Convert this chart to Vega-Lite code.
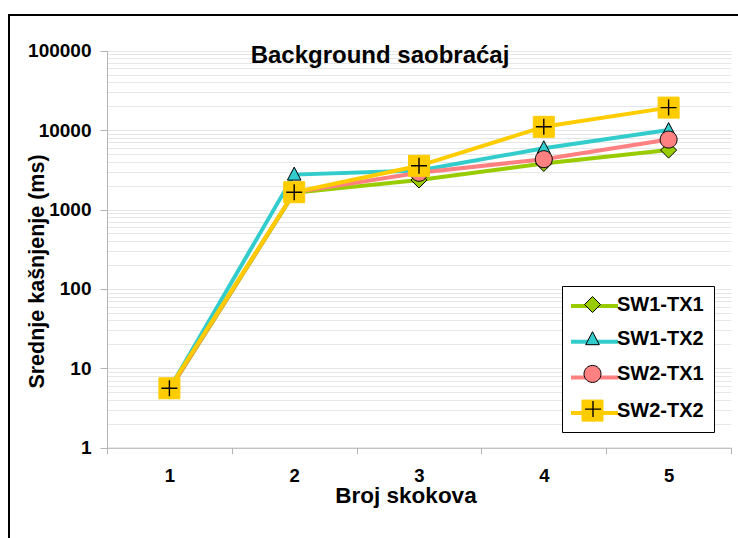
{
  "$schema": "https://vega.github.io/schema/vega-lite/v6.json",
  "width": 740,
  "height": 530,
  "autosize": {"type": "none"},
  "padding": {"left": 9, "top": 15, "right": -11, "bottom": -7},
  "config": {
    "font": "Liberation Sans",
    "view": {"stroke": "black", "strokeWidth": 2, "fill": "white"}
  },
  "title": {
    "text": "Background saobraćaj",
    "fontSize": 24,
    "fontWeight": "bold",
    "color": "black",
    "anchor": "middle",
    "offset": 0,
    "baseline": "alphabetic",
    "dy": 72,
    "dx": 1
  },
  "data": {
    "values": [
      {"hops": 1, "series": "SW1-TX1", "delay": 5.3},
      {"hops": 2, "series": "SW1-TX1", "delay": 1620},
      {"hops": 3, "series": "SW1-TX1", "delay": 2350},
      {"hops": 4, "series": "SW1-TX1", "delay": 3800},
      {"hops": 5, "series": "SW1-TX1", "delay": 5600},
      {"hops": 1, "series": "SW1-TX2", "delay": 5.5},
      {"hops": 2, "series": "SW1-TX2", "delay": 2750},
      {"hops": 3, "series": "SW1-TX2", "delay": 3100},
      {"hops": 4, "series": "SW1-TX2", "delay": 5900},
      {"hops": 5, "series": "SW1-TX2", "delay": 10000},
      {"hops": 1, "series": "SW2-TX1", "delay": 5.4},
      {"hops": 2, "series": "SW2-TX1", "delay": 1650},
      {"hops": 3, "series": "SW2-TX1", "delay": 2900},
      {"hops": 4, "series": "SW2-TX1", "delay": 4300},
      {"hops": 5, "series": "SW2-TX1", "delay": 7600},
      {"hops": 1, "series": "SW2-TX2", "delay": 5.6},
      {"hops": 2, "series": "SW2-TX2", "delay": 1650},
      {"hops": 3, "series": "SW2-TX2", "delay": 3550},
      {"hops": 4, "series": "SW2-TX2", "delay": 11000},
      {"hops": 5, "series": "SW2-TX2", "delay": 19200}
    ]
  },
  "encoding": {
    "x": {
      "field": "hops",
      "type": "ordinal",
      "scale": {"type": "band", "paddingInner": 0, "paddingOuter": 0, "range": [98, 722]},
      "axis": {
        "title": "Broj skokova",
        "orient": "bottom",
        "offset": -97.3,
        "labelAngle": 0,
        "tickBand": "extent",
        "tickSize": 6,
        "tickColor": "#b4b4b4",
        "domainColor": "#b4b4b4",
        "labelFontSize": 18.5,
        "labelFontWeight": "bold",
        "labelColor": "black",
        "labelPadding": 13,
        "grid": false,
        "titleFontSize": 22.5,
        "titleFontWeight": "bold",
        "titleColor": "black",
        "titleX": 396.5,
        "titleY": 54.5,
        "titleBaseline": "alphabetic",
        "titleAlign": "center"
      }
    },
    "y": {
      "field": "delay",
      "type": "quantitative",
      "scale": {"type": "log", "domain": [1, 100000], "range": [432.7, 35.7], "nice": false},
      "axis": {
        "title": "Srednje kašnjenje (ms)",
        "orient": "left",
        "offset": -98,
        "values": [1,2,3,4,5,6,7,8,9,10,20,30,40,50,60,70,80,90,100,200,300,400,500,600,700,800,900,1000,2000,3000,4000,5000,6000,7000,8000,9000,10000,20000,30000,40000,50000,60000,70000,80000,90000,100000],
        "format": "d",
        "labelExpr": "indexof([1,10,100,1000,10000,100000], datum.value) >= 0 ? datum.label : ''",
        "labelOverlap": false,
        "labelFontSize": 19,
        "labelFontWeight": "bold",
        "labelColor": "black",
        "labelPadding": 9,
        "tickSize": 7,
        "tickColor": "#b4b4b4",
        "tickOpacity": {"condition": {"test": "indexof([1,10,100,1000,10000,100000], datum.value) < 0", "value": 0}, "value": 1},
        "domainColor": "#b4b4b4",
        "grid": true,
        "gridColor": "#e6e6e6",
        "titleFontSize": 21.5,
        "titleFontWeight": "bold",
        "titleColor": "black",
        "titleX": -64,
        "titleY": 256,
        "titleBaseline": "alphabetic",
        "titleAlign": "center"
      }
    }
  },
  "layer": [
    {
      "mark": {"type": "line", "strokeWidth": 4},
      "encoding": {
        "color": {
          "field": "series",
          "type": "nominal",
          "scale": {"domain": ["SW1-TX1", "SW1-TX2", "SW2-TX1", "SW2-TX2"], "range": ["#99CC00", "#33CCCC", "#FF8080", "#FFCC00"]},
          "legend": {
            "orient": "none", "legendX": 553, "legendY": 271,
            "title": null,
            "symbolType": "M-2.35,0H2.35", "symbolSize": 400, "symbolStrokeWidth": 4, "symbolOffset": 12.5,
            "labelExpr": "' '",
            "labelOpacity": 0, "labelFontSize": 20, "labelFontWeight": "bold",
            "labelOffset": 99,
            "padding": 8, "rowPadding": 13.7,
            "strokeColor": "black", "fillColor": "white"
          }
        }
      }
    },
    {
      "mark": {"type": "point", "filled": true, "size": 400, "strokeWidth": 1, "opacity": 1},
      "encoding": {
        "shape": {
          "field": "series", "type": "nominal",
          "scale": {"range": [
            "M-0.8,0L0,-0.8L0.8,0L0,0.8Z",
            "M0,-0.75L0.68,0.55L-0.68,0.55Z",
            "M-0.85,0A0.85,0.85,0,1,0,0.85,0A0.85,0.85,0,1,0,-0.85,0Z",
            "M-1.05,-1.05H1.05V1.05H-1.05Z"
          ]},
          "legend": {"orient": "none", "legendX": 553, "legendY": 271, "title": null, "symbolSize": 400, "symbolStrokeWidth": 1, "symbolOffset": 12, "labelFontSize": 20, "labelFontWeight": "bold", "labelColor": "black", "labelOffset": 14, "padding": 8, "rowPadding": 13.7}
        },
        "fill": {
          "field": "series", "type": "nominal",
          "scale": {"range": ["#99CC00", "#33CCCC", "#FF8080", "#FFCC00"]},
          "legend": {"orient": "none", "legendX": 553, "legendY": 271, "title": null, "symbolSize": 400, "symbolStrokeWidth": 1, "symbolOffset": 12, "labelFontSize": 20, "labelFontWeight": "bold", "labelColor": "black", "labelOffset": 14, "padding": 8, "rowPadding": 13.7}
        },
        "stroke": {
          "field": "series", "type": "nominal",
          "scale": {"range": ["black", "black", "black", "#FFCC00"]},
          "legend": {"orient": "none", "legendX": 553, "legendY": 271, "title": null, "symbolSize": 400, "symbolStrokeWidth": 1, "symbolOffset": 12, "labelFontSize": 20, "labelFontWeight": "bold", "labelColor": "black", "labelOffset": 14, "padding": 8, "rowPadding": 13.7}
        }
      }
    },
    {
      "transform": [{"filter": "datum.series == 'SW2-TX2'"}],
      "mark": {"type": "point", "filled": false, "shape": "M-0.8,0H0.8M0,-0.8V0.8", "size": 400, "stroke": "black", "strokeWidth": 1.4, "opacity": 1},
      "encoding": {
        "strokeDash": {
          "field": "series", "type": "nominal",
          "scale": {"range": [[1, 0]]},
          "legend": {"orient": "none", "legendX": 553, "legendY": 375.1, "title": null, "symbolType": "M-0.8,0H0.8M0,-0.8V0.8", "symbolSize": 400, "symbolStrokeWidth": 1.4, "symbolStrokeColor": "black", "symbolFillColor": "transparent", "symbolOffset": 12, "labelExpr": "' '", "labelOpacity": 0, "labelFontSize": 20, "labelOffset": 14, "padding": 8}
        }
      }
    }
  ]
}
